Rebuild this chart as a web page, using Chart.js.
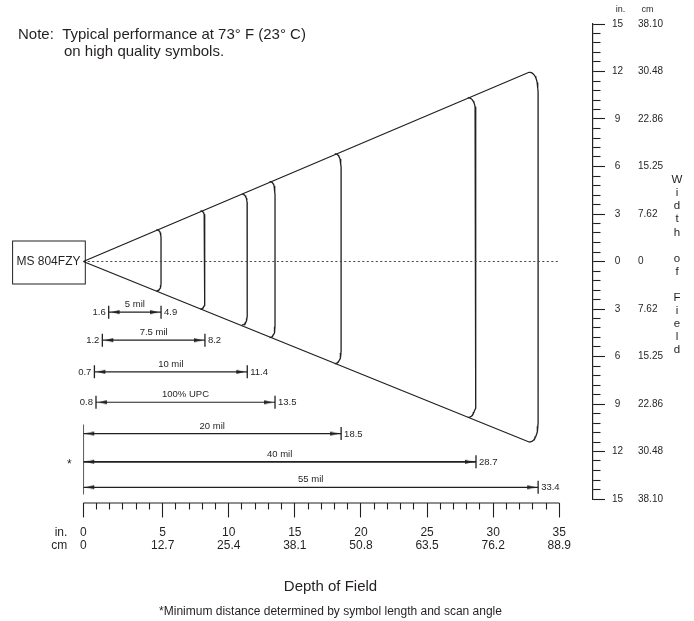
<!DOCTYPE html>
<html>
<head>
<meta charset="utf-8">
<script src="https://cdn.jsdelivr.net/npm/chart.js@4.4.1/dist/chart.umd.min.js"></script>
<style>
  html, body { margin: 0; padding: 0; background: #fff; }
  #wrap { width: 694px; height: 621px; position: relative; }
</style>
</head>
<body>
<div id="wrap"><canvas id="c"></canvas></div>
<script>
// ================= DATA =================
const symbolLabels = ['5 mil', '7.5 mil', '10 mil', '100% UPC', '20 mil', '40 mil', '55 mil'];
const nearRange    = [1.6, 1.2, 0.7, 0.8, null, null, null];   // null = "*" (min distance by symbol length)
const farRange     = [4.9, 8.2, 11.4, 13.5, 18.5, 28.7, 33.4];
const fieldTop     = [2.0, 3.2, 4.25, 5.05, 6.8, 10.35, 11.95]; // width of field (in.) at each range, above centre
const fieldBottom  = [1.85, 3.0, 4.0, 4.8, 6.45, 9.85, 11.4];   // width of field (in.) at each range, below centre
const depthTicksIn = [0, 5, 10, 15, 20, 25, 30, 35];
const depthTicksCm = ['0', '12.7', '25.4', '38.1', '50.8', '63.5', '76.2', '88.9'];
const widthTicksIn = [0, 3, 6, 9, 12, 15];
const widthTicksCm = ['0', '7.62', '15.25', '22.86', '30.48', '38.10'];

// ================= LAYOUT (positions / styles) =================
const INK = '#231f20';
const FONT = '"Liberation Sans", Arial, Helvetica, sans-serif';
const barRow   = [-3.2, -4.97, -6.97, -8.89, -10.87, -12.65, -14.26]; // rows of the range bars on the width axis
const starSpan = [-10.3, -14.72];
const rulerY   = -15.25;

// The reference ruler has six 1-inch divisions before "5", then one per inch.
function rulerWarp(v)   { return v <= 5 ? v * 1.2 : v + 1; }
function rulerUnwarp(u) { return u <= 6 ? u / 1.2 : u - 1; }
class RulerScale extends Chart.LinearScale {
  getPixelForValue(v) { return super.getPixelForValue(v === null || v === undefined ? v : rulerWarp(v)); }
  getValueForPixel(p) { return rulerUnwarp(super.getValueForPixel(p)); }
}
RulerScale.id = 'ruler';
RulerScale.defaults = Chart.LinearScale.defaults;
Chart.register(RulerScale);

const xTickValues = [0, 5/6, 10/6, 15/6, 20/6, 25/6];
for (let v = 5; v <= 35; v++) xTickValues.push(v);
const yTickValues = [];
for (let k = 0; k <= 50; k++) yTickValues.push(Math.round((-15 + 0.6 * k) * 1000) / 1000);
const isMult = (v, m) => Math.abs(v / m - Math.round(v / m)) < 1e-6;

// arrow head image (tip offset 2.5px inside the point)
function makeArrow() {
  const c = document.createElement('canvas');
  c.width = 26; c.height = 8;
  const g = c.getContext('2d');
  g.fillStyle = INK;
  g.beginPath(); g.moveTo(10.5, 4); g.lineTo(2, 2); g.lineTo(2, 6); g.closePath(); g.fill();
  return c;
}
const arrowImg = makeArrow();

// arc shape (rounded corners) for each range
function arcPoints(d, T, B) {
  const rx = (3 + 0.18 * d) / 13.2;
  const hy = (6 + 0.5 * d) / 15.8;
  const q = (a, b, c, t) => (1 - t) * (1 - t) * a + 2 * (1 - t) * t * b + t * t * c;
  const pts = [];
  for (let k = 0; k <= 12; k++) { const t = k / 12; pts.push({ x: q(d - rx, d, d, t), y: q(T, T, T - hy, t) }); }
  for (let k = 0; k <= 12; k++) { const t = k / 12; pts.push({ x: q(d, d, d - rx, t), y: q(-B + hy, -B, -B, t) }); }
  return pts;
}
function cornerX(d) { return d - (3 + 0.18 * d) / 13.2; }

const datasets = [];
const last = farRange.length - 1;
// fan edges
datasets.push({
  data: [{ x: cornerX(farRange[last]), y: fieldTop[last] }, { x: 0, y: 0 }, { x: cornerX(farRange[last]), y: -fieldBottom[last] }],
  borderColor: INK, borderWidth: 1.2
});
// centre dotted line
datasets.push({ data: [{ x: 0, y: 0 }, { x: 35, y: 0 }], borderColor: '#444', borderWidth: 1, borderDash: [2, 2.5] });
// arcs
farRange.forEach((d, i) => {
  datasets.push({ data: arcPoints(d, fieldTop[i], fieldBottom[i]), borderColor: INK, borderWidth: 1.3 });
});
// range bars with arrow heads
farRange.forEach((d, i) => {
  datasets.push({
    data: [{ x: nearRange[i] === null ? 0 : nearRange[i], y: barRow[i] }, { x: d, y: barRow[i] }],
    borderColor: INK, borderWidth: i === 5 ? 1.7 : 1.2,
    pointStyle: arrowImg, pointRadius: 5, pointRotation: [180, 0]
  });
});
// end ticks of the bars
const tickPts = [];
farRange.forEach((d, i) => {
  if (nearRange[i] !== null) tickPts.push({ x: nearRange[i], y: barRow[i] });
  tickPts.push({ x: d, y: barRow[i] });
});
datasets.push({
  data: tickPts, showLine: false, pointStyle: 'line', pointRotation: 90,
  pointRadius: 6.5, pointBorderWidth: 1.3, pointBorderColor: INK, borderColor: INK
});
// "*" minimum-distance line
datasets.push({ data: [{ x: 0, y: starSpan[0] }, { x: 0, y: starSpan[1] }], borderColor: INK, borderWidth: 1.5 });
// ruler baseline
datasets.push({ data: [{ x: 0, y: rulerY }, { x: 35, y: rulerY }], borderColor: INK, borderWidth: 1.1, clip: false });

const textPlugin = {
  id: 'texts',
  afterDraw(chart) {
    const { ctx } = chart;
    const x = chart.scales.x, y = chart.scales.y;
    const F = s => s + 'px ' + FONT;
    ctx.save();
    ctx.fillStyle = INK;
    ctx.strokeStyle = INK;

    // note
    ctx.font = F(15); ctx.textAlign = 'left'; ctx.textBaseline = 'alphabetic';
    ctx.fillText('Note:  Typical performance at 73\u00B0 F (23\u00B0 C)', 18, 38.5);
    ctx.fillText('on high quality symbols.', 64, 56);

    // scanner box
    const x0 = x.getPixelForValue(0), y0 = y.getPixelForValue(0);
    const bx1 = x0 + 1.5, bw = 72.7;
    ctx.lineWidth = 1;
    ctx.strokeRect(bx1 - bw + 0.5, y0 - 21 + 0.5, bw, 43);
    ctx.font = F(12); ctx.textAlign = 'center'; ctx.textBaseline = 'middle';
    ctx.fillText('MS 804FZY', bx1 - bw / 2, y0 + 0.5);

    // bar labels
    farRange.forEach((d, i) => {
      const ry = y.getPixelForValue(barRow[i]);
      const xn = x.getPixelForValue(nearRange[i] === null ? 0 : nearRange[i]);
      const xf = x.getPixelForValue(d);
      ctx.font = F(9.5); ctx.textBaseline = 'middle';
      ctx.textAlign = 'center';
      ctx.fillText(symbolLabels[i], (xn + xf) / 2, ry - 7.5);
      ctx.textAlign = 'left';
      ctx.fillText(String(d), xf + 3, ry + 0.5);
      if (nearRange[i] !== null) {
        ctx.textAlign = 'right';
        ctx.fillText(String(nearRange[i]), xn - 3, ry + 0.5);
      }
    });
    ctx.font = F(12); ctx.textAlign = 'center'; ctx.textBaseline = 'middle';
    ctx.fillText('*', x0 - 14, y.getPixelForValue(barRow[5]) + 3);

    // ruler unit captions
    ctx.font = F(12); ctx.textAlign = 'right'; ctx.textBaseline = 'middle';
    ctx.fillText('in.', x0 - 16, 532.5);
    ctx.fillText('cm', x0 - 16, 545.5);

    // right axis headers
    ctx.font = F(9); ctx.textAlign = 'center';
    ctx.fillText('in.', 620.5, 10);
    ctx.fillText('cm', 647.5, 10);

    // Width of Field (stacked letters)
    const letters = ['W', 'i', 'd', 't', 'h', '', 'o', 'f', '', 'F', 'i', 'e', 'l', 'd'];
    ctx.font = F(11.5); ctx.textAlign = 'center';
    letters.forEach((ch, k) => { if (ch) ctx.fillText(ch, 677, 180 + k * 13.1); });

    // bottom titles
    ctx.font = F(15); ctx.textAlign = 'center';
    ctx.fillText('Depth of Field', 330.5, 587);
    ctx.font = F(12);
    ctx.fillText('*Minimum distance determined by symbol length and scan angle', 330.5, 612);
    ctx.restore();
  }
};

new Chart(document.getElementById('c'), {
  type: 'line',
  data: { datasets: datasets.map(ds => Object.assign({ fill: false, tension: 0, pointRadius: 0 }, ds)) },
  options: {
    responsive: true,
    maintainAspectRatio: false,
    animation: false,
    events: [],
    layout: { padding: { left: 83.3, top: 24, right: 31, bottom: 62 } },
    elements: { point: { radius: 0, hoverRadius: 0 } },
    plugins: { legend: { display: false }, tooltip: { enabled: false }, title: { display: false } },
    scales: {
      x: {
        type: 'ruler', position: 'bottom', min: 0, max: 38.55,
        afterBuildTicks: s => { s.ticks = xTickValues.map(v => ({ value: v })); },
        afterFit: s => { s.height = 60; },
        border: { display: false },
        grid: {
          drawOnChartArea: false, drawTicks: true, tickLength: 18.5, tickColor: INK, tickWidth: 1.1,
          tickBorderDash: c => (c.tick && isMult(c.tick.value, 5)) ? [14.5, 300] : [6.5, 300],
          tickBorderDashOffset: c => ((c.tick && isMult(c.tick.value, 5)) ? 314.5 : 306.5) - 4
        },
        ticks: {
          autoSkip: false, maxRotation: 0, minRotation: 0, padding: 8.5, color: INK,
          font: { family: FONT, size: 12, lineHeight: 1.1 },
          callback: v => {
            if (!isMult(v, 5)) return '';
            const i = depthTicksIn.indexOf(Math.round(v));
            return [String(depthTicksIn[i]), depthTicksCm[i]];
          }
        }
      },
      y: {
        type: 'linear', position: 'right', min: -15, max: 15, weight: 0,
        afterBuildTicks: s => { s.ticks = yTickValues.map(v => ({ value: v })); },
        afterFit: s => { s.width = 30; },
        border: { display: true, color: INK, width: 1.2 },
        grid: {
          drawOnChartArea: false, drawTicks: true, tickLength: 12, tickColor: INK, tickWidth: 1.1,
          tickBorderDash: c => (c.tick && isMult(c.tick.value, 3)) ? [] : [7.3, 100]
        },
        ticks: {
          autoSkip: false, padding: 7, crossAlign: 'center', color: INK,
          font: { family: FONT, size: 10 },
          callback: v => isMult(v, 3) ? String(Math.round(Math.abs(v))) : ''
        }
      },
      y2: {
        type: 'linear', position: 'right', min: -15, max: 15, weight: 1,
        afterBuildTicks: s => { s.ticks = widthTicksIn.flatMap(v => v === 0 ? [{ value: 0 }] : [{ value: -v }, { value: v }]).sort((a, b) => a.value - b.value); },
        afterFit: s => { s.width = 40; },
        border: { display: false },
        grid: { display: false, drawTicks: false, drawOnChartArea: false },
        ticks: {
          autoSkip: false, padding: 15, crossAlign: 'near', color: INK,
          font: { family: FONT, size: 10 },
          callback: v => widthTicksCm[widthTicksIn.indexOf(Math.round(Math.abs(v)))]
        }
      }
    }
  },
  plugins: [textPlugin]
});
</script>
</body>
</html>
